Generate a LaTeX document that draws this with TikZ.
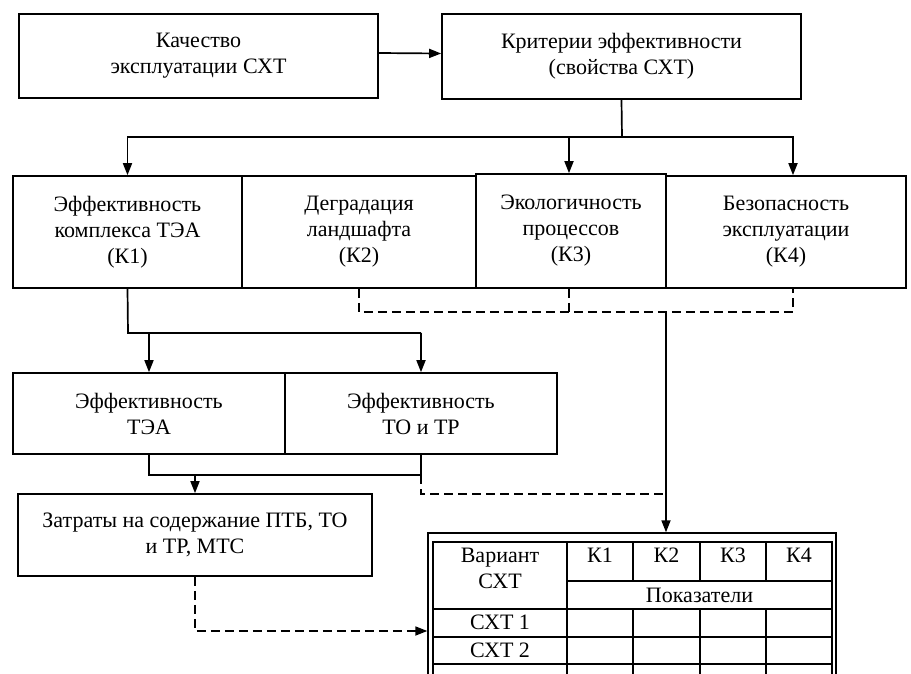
\documentclass[tikz,border=0pt]{standalone}
\usepackage{fontspec}
\setmainfont{Liberation Serif}
\usetikzlibrary{arrows.meta}
\begin{document}
\begin{tikzpicture}[x=1pt,y=-1pt,
  box/.style={draw, line width=1.7pt, inner sep=0pt, align=center, font=\fontsize{22}{26}\selectfont},
  conn/.style={line width=1.7pt},
  arr/.style={conn, -{Triangle[length=12pt,width=9pt]}},
  dsh/.style={conn, dash pattern=on 9pt off 5pt},
  darr/.style={dsh, -{Triangle[length=12pt,width=9pt]}},
  tline/.style={line width=1.3pt},
  txt/.style={inner sep=0pt, font=\fontsize{22}{26}\selectfont, align=center}]
\useasboundingbox (0,0) rectangle (911,673);
\fill[white] (0,0) rectangle (911,673);

% top row
\node[box, minimum width=359pt, minimum height=84pt] (A) at (198.5,56) {Качество\\эксплуатации СХТ};
\node[box, minimum width=359pt, minimum height=85pt] (B) at (621.5,56.5) {Критерии эффективности\\(свойства СХТ)};

% second row
\node[box, minimum width=229pt, minimum height=112pt] (K1) at (127.5,232) {Эффективность\\комплекса ТЭА\\(К1)};
\node[box, minimum width=234pt, minimum height=112pt] (K2) at (359,232) {Деградация\\ландшафта\\(К2)};
\node[box, minimum width=240pt, minimum height=112pt] (K4) at (786,232) {Безопасность\\эксплуатации\\(К4)};
\node[box, fill=white, minimum width=190pt, minimum height=114pt] (K3) at (571,231) {Экологичность\\процессов\\(К3)};

% third row
\node[box, minimum width=272pt, minimum height=81pt] (L) at (149,413.5) {Эффективность\\ТЭА};
\node[box, minimum width=272pt, minimum height=81pt] (R) at (421,413.5) {Эффективность\\ТО и ТР};

% costs
\node[box, minimum width=354pt, minimum height=82pt] (Z) at (195,535) {Затраты на содержание ПТБ, ТО\\и ТР, МТС};

% table
\node[draw, tline, inner sep=0pt, minimum width=408pt, minimum height=196pt] (tab) at (632,631) {};
\draw[tline] (433,700) -- (433,542) -- (832,542) -- (832,700);
\draw[tline] (567,581) -- (832,581);
\foreach \yy in {609,637,664,692} \draw[tline] (433,\yy) -- (832,\yy);
\draw[tline] (567,542) -- (567,700);
\foreach \xx in {633,700,766} {
  \draw[tline] (\xx,542) -- (\xx,581);
  \draw[tline] (\xx,609) -- (\xx,700);
}
\node[txt] (tv) at (500,568) {Вариант\\СХТ};
\node[txt] (t1) at (600,555) {К1};
\node[txt] (t2) at (666.5,555) {К2};
\node[txt] (t3) at (733,555) {К3};
\node[txt] (t4) at (799,555) {К4};
\node[txt] (tp) at (699.5,595) {Показатели};
\node[txt] (s1) at (500,622) {СХТ 1};
\node[txt] (s2) at (500,650) {СХТ 2};

% connectors
\draw[arr] ([yshift=3pt]A.east) -- ([yshift=3pt]B.west);
\coordinate (bus) at (622,137);
\draw[conn] (B.south) -- (bus);
\draw[arr] (bus) -| (K1.north);
\draw[arr] (bus) -| ([xshift=-2pt]K3.north);
\draw[arr] (bus) -| ([xshift=7pt]K4.north);

\coordinate (dj) at (666,312);
\draw[dsh] (K2.south) |- ([xshift=7pt]K4.south |- dj) -- ([xshift=7pt]K4.south);
\draw[dsh] ([xshift=-2pt]K3.south) -- ([xshift=-2pt]K3.south |- dj);
\draw[arr] (dj) -- (dj |- tab.north);

\coordinate (k1j) at (128,333);
\draw[conn] (K1.south) -- (k1j) -- (k1j -| R.north);
\draw[arr] (k1j -| L.north) -- (L.north);
\draw[arr] (k1j -| R.north) -- (R.north);

\coordinate (lj) at (149,475);
\draw[conn] (L.south) -- (lj) -- (lj -| R.south) -- (R.south);
\draw[arr] (lj -| Z.north) -- (Z.north);
\coordinate (dj2) at (666,494);
\draw[dsh] (lj -| R.south) |- (dj2);

\draw[darr] (Z.south) |- (tab.west);
\end{tikzpicture}
\end{document}
